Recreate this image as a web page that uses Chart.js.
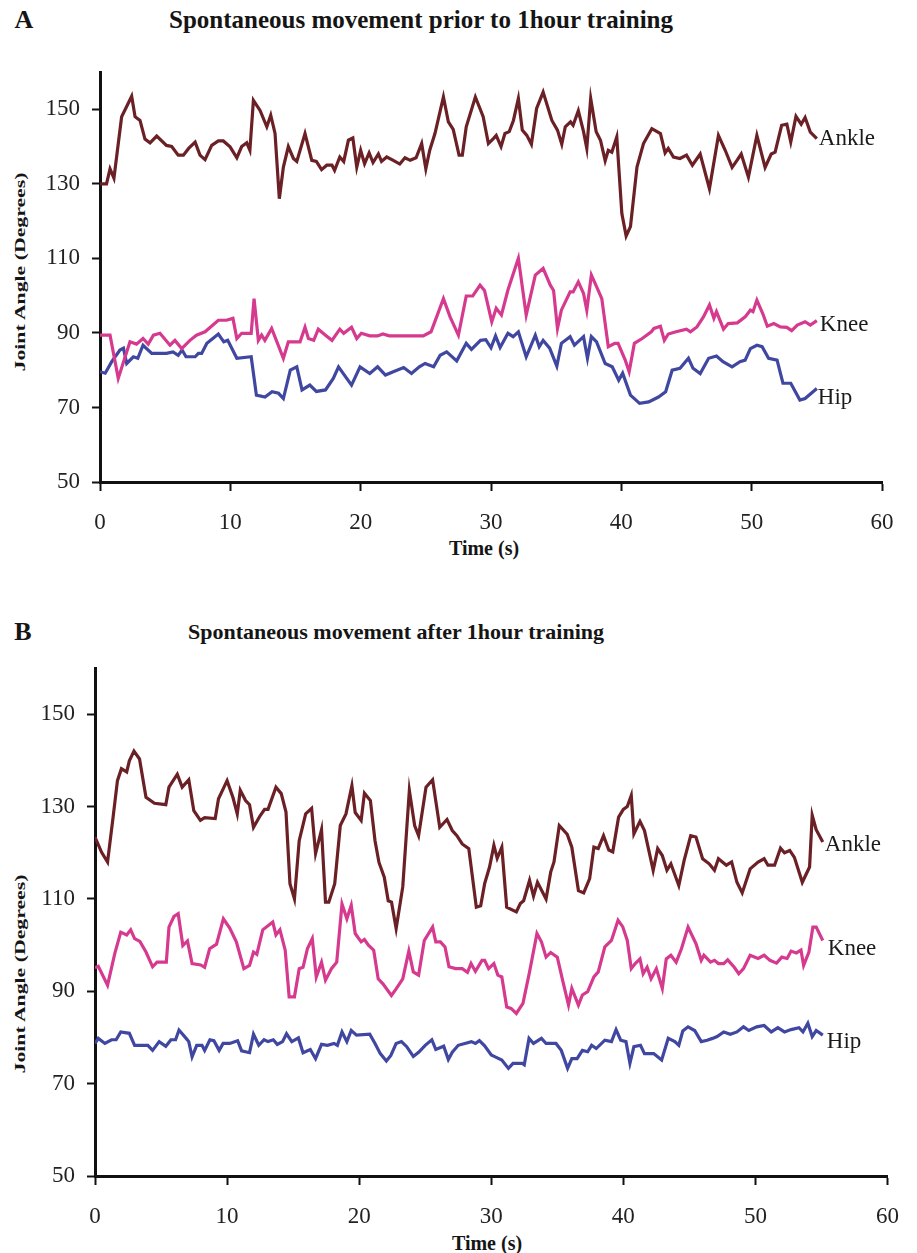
<!DOCTYPE html>
<html>
<head>
<meta charset="utf-8">
<script src="https://cdn.jsdelivr.net/npm/chart.js@4"></script>
<style>
  body { margin: 0; background: #fff; width: 917px; height: 1253px; position: relative; overflow: hidden; }
  .panel { position: absolute; left: 0; }
  .txt { position: absolute; transform: translate(-50%, -50%); font-family: 'Liberation Serif', 'Times New Roman', serif; font-weight: bold; color: #151515; white-space: nowrap; }
  .letter { font-size: 26px; }
  .ttl { font-size: 25px; }
  .ytl { font-size: 15px; transform: translate(-50%, -50%) rotate(-90deg) scaleX(1.45); }
  .xtl { font-size: 20px; }
</style>
</head>
<body>

<div class="txt letter" style="left:24px; top:20px;">A</div>
<div class="txt ttl" style="left:421px; top:20px;">Spontaneous movement prior to 1hour training</div>
<div class="txt ytl" style="left:20px; top:272px;">Joint Angle (Degrees)</div>
<div class="txt xtl" style="left:484px; top:548px;">Time (s)</div>

<div class="txt letter" style="left:23px; top:632px;">B</div>
<div class="txt ttl" style="left:396px; top:632px; font-size:22px;">Spontaneous movement after 1hour training</div>
<div class="txt ytl" style="left:20px; top:974px;">Joint Angle (Degrees)</div>
<div class="txt xtl" style="left:487px; top:1243px;">Time (s)</div>

<div class="panel" style="top:0px;"><canvas id="chartA" width="917" height="600"></canvas></div>
<div class="panel" style="top:600px;"><canvas id="chartB" width="917" height="653"></canvas></div>

<script>
// --- axis ticks ---
const timeTicks = [0, 10, 20, 30, 40, 50, 60];
const angleTicks = [50, 70, 90, 110, 130, 150];

// --- A: prior to training ---
const ankleA_t = [0,0.5,0.77,1.07,1.66,2.43,2.69,3.07,3.45,3.84,4.35,5.1,5.5,6.0,6.4,6.8,7.3,7.67,8.06,8.57,9.08,9.46,9.98,10.5,10.87,11.26,11.5,11.77,12.28,12.8,13.1,13.43,13.76,14.07,14.45,14.84,15.1,15.73,16.25,16.6,17.0,17.4,17.8,18.0,18.4,18.7,19.06,19.4,19.7,20.0,20.3,20.65,20.95,21.36,21.6,22.0,22.5,23.0,23.4,23.8,24.25,24.68,25.0,25.3,25.7,26.35,26.73,27.1,27.55,27.8,28.1,28.8,29.4,29.8,30.2,30.4,30.77,31.07,31.4,31.72,32.1,32.4,32.75,33.1,33.5,34.0,34.67,35.1,35.43,35.7,36.1,36.3,36.7,37.1,37.35,37.65,38.07,38.4,38.76,39.0,39.27,39.65,40.04,40.37,40.7,41.2,41.7,42.34,43.0,43.36,43.6,44.0,44.5,45.0,45.45,46.05,46.76,47.45,47.97,48.5,48.9,49.2,49.75,50.4,51.03,51.5,51.8,52.3,52.7,53.0,53.4,53.8,54.1,54.5,55.0];
const ankleA_deg = [130,130,134,131.5,148,153.5,148,147,142,141,142.8,140.3,140,137.7,137.7,139.5,141.2,137.7,136.5,140.3,141.5,141.5,139.9,137,140,141,139,152.4,149.7,145.3,148.4,143.5,126,134.5,140,136.8,136,143.5,136.3,136,133.8,135,135,133.6,137.2,136,141.7,142.3,134.5,139,135.4,138.3,135.7,138,136,137.2,136.3,135.3,137,136.3,137,140.8,134,139,143.5,153.3,146.6,144.6,137.7,137.7,145.3,153.3,148,140.8,142.2,143,140,143.5,144,147,152.9,144.4,143,140.6,150.2,154.6,147,144.4,140.6,145.3,146.6,145.7,149.6,144,139.5,152.9,144,141.7,136.2,139,138.5,142.6,122,116,118.5,134.5,140.8,144.8,143.5,138.3,139.5,137.2,136.8,137.7,135,138,128.7,143,139,134.4,136.4,138,131.8,143,134.4,138,138.5,145.7,146,141.2,148.1,146,147.8,143.9,142.1];

const kneeA_t = [0,0.77,1.4,2.3,2.8,3.3,3.7,4.1,4.6,5.37,5.75,6.27,6.9,7.4,8.06,9.08,9.7,10.2,10.5,10.87,11.6,11.82,12.15,12.4,12.65,13.17,14.07,14.45,15.35,15.73,15.99,16.4,16.75,17.3,17.8,18.4,18.7,19.3,19.7,20.05,20.7,21.3,21.7,22.2,24.8,25.4,26.35,26.86,27.5,28.1,28.6,29.16,29.5,30.06,30.4,30.8,31.3,32.1,32.7,33.4,34.0,34.55,34.8,35.1,35.4,36.07,36.3,36.7,37.1,37.35,37.7,38.1,38.5,39.0,39.5,39.75,40.3,40.6,41.0,41.6,42.3,42.5,43.0,43.3,43.6,44.2,45.0,45.3,45.8,46.3,46.76,47.1,47.3,47.84,48.2,48.9,49.5,49.9,50.1,50.4,50.85,51.2,51.7,52.2,52.7,53.07,53.5,54.1,54.5,55.0];
const kneeA_deg = [89.4,89.4,77.8,87.6,87,88.5,87,89.4,89.9,86.7,88,85.8,88,89.4,90.3,93.4,93.4,93.9,88.5,89.9,89.9,99.2,88,89.4,88,91.2,83.2,87.6,87.6,91.5,88.5,88,91,89.4,88,91,89.9,91.5,88.5,89.9,89.2,89.2,89.7,89.2,89.2,90.3,99.2,94.3,89.4,99.9,99.9,102.8,101.4,93,96.6,94.8,101.5,110,94.8,105.5,107.3,102.8,101.4,91.2,96.1,101,101,103.7,100.6,96.1,105.5,102.4,99.2,86.3,87.2,87.2,82.7,79.6,87.2,88.5,90.3,91.2,91.8,88,89.7,90.3,91,90.3,91.6,94.3,97.5,93.9,95.7,91,92.5,92.7,94.3,96.1,95.7,98.8,95.2,91.8,92.5,91.6,91.5,90.6,92.1,93,92.1,93.3];

const hipA_t = [0,0.4,0.9,1.53,1.8,2.05,2.56,2.9,3.3,3.97,5.1,5.6,6.0,6.3,6.6,7.3,7.55,7.8,8.2,9.08,9.5,9.8,10.5,11.6,12.0,12.66,13.2,13.7,14.07,14.6,15.1,15.5,16.1,16.6,17.3,17.9,18.3,19.3,19.95,20.7,21.3,21.9,22.5,23.3,23.9,24.5,24.94,25.6,26.1,26.6,27.37,28.1,28.5,29.2,29.6,30.0,30.35,30.7,31.3,31.7,32.1,32.7,33.4,33.7,34.0,34.5,35.05,35.4,36.07,36.4,37.1,37.4,37.7,38.1,38.76,39.3,39.8,40.1,40.7,41.4,42.1,42.85,43.4,43.9,44.5,45.15,45.5,46.05,46.7,47.3,47.8,48.5,49.1,49.5,49.9,50.4,50.8,51.3,51.95,52.4,53.0,53.7,54.1,55.0];
const hipA_deg = [79.6,79.2,82.3,85.4,85.9,81.8,83.6,83.2,86.7,84.5,84.5,84.9,84,85.4,83.6,83.6,84.5,84.5,87.2,89.7,87.6,88,83.2,83.6,73.3,72.8,74.2,73.8,72.4,80,80.9,74.7,76,74.3,74.7,77.8,80.9,76,80.9,79.1,80.9,78.7,79.6,80.7,79.1,80.9,81.8,80.9,84,84.9,82.5,87.2,85.6,88,88.2,86,89.2,86.1,89.9,89,90.3,83.6,89.4,86.3,88,85.9,81.1,87.2,89,86.7,89,83.2,89,87.6,81.8,80.9,77.3,79.2,73.3,71.1,71.5,72.8,74.2,80,80.5,83.2,80.5,79.1,83.2,83.8,82.3,80.9,82.3,82.7,85.8,86.7,86.3,83.2,82.7,76.5,76.5,72,72.4,75.1];

// --- B: after training ---
const ankleB_t = [0,0.5,0.95,1.37,1.7,2.0,2.4,2.6,2.95,3.37,3.86,4.5,5.36,5.6,6.23,6.6,7.1,7.48,7.98,8.3,9.1,9.35,10.0,10.45,10.77,11.0,11.4,11.7,12.0,12.5,12.84,13.1,13.7,14.1,14.46,14.76,15.1,15.46,15.95,16.4,16.7,17.15,17.45,17.7,18.15,18.57,19.0,19.45,19.7,20.15,20.4,20.85,21.2,21.5,21.9,22.2,22.45,22.8,23.3,23.8,24.2,24.5,25.06,25.56,26.1,26.65,27.05,27.4,27.8,28.3,28.87,29.2,29.5,29.87,30.2,30.45,30.8,31.17,31.9,32.2,32.45,32.9,33.2,33.5,34.15,34.5,34.75,35.15,35.75,36.1,36.6,37.0,37.45,37.77,38.1,38.5,38.9,39.2,39.64,40.0,40.3,40.6,40.8,41.26,41.6,42.26,42.6,42.95,43.3,43.6,44.2,44.6,45.1,45.5,46.0,46.5,46.9,47.2,47.8,48.2,48.6,49.0,49.6,50.2,50.66,50.95,51.45,51.9,52.2,52.6,52.95,53.55,54.1,54.3,54.6,55.1];
const ankleB_deg = [123.4,120.1,118,127.7,135.6,138.2,137.5,139.9,142,140.3,132,130.7,130.4,134.2,137,134.2,135.8,129.1,127,127.6,127.4,131.7,135.6,131.9,128.4,133.5,131.3,130.4,125.5,128,129.4,129.4,134.2,132.8,128.8,113.3,110,122.6,128.4,129.6,119.8,125,109.3,109.3,113.3,125.9,128.4,134.5,128.7,127,132.9,131.3,122.6,117.9,114.7,109.6,109.3,103.6,112.6,133.5,125.9,123.7,134.2,135.8,125.5,127.2,124.8,123.7,121.9,120.9,108.2,108.5,113.3,116.9,121.6,118.8,121.2,108.2,107.2,109,109.6,114,110.6,113.6,110,115.8,118,125.9,124,121.2,111.8,111.3,114.4,121.2,120.9,123.7,120.6,120.2,127.7,129.4,130,132.4,124.1,126.8,124.8,116.2,120.9,119.4,116.2,117.6,112.9,118.3,123.7,123.4,118.7,117.6,116.2,118.7,117.3,118,113.6,111.3,116.5,118,118.7,117.3,117.3,121,120,120.5,119,113.6,116.9,128.1,125,122.3];

const kneeB_t = [0,0.25,0.95,1.5,1.95,2.4,2.7,3.0,3.4,3.86,4.36,4.7,5.4,5.6,5.98,6.3,6.65,7.0,7.35,8.0,8.3,8.68,9.2,9.72,10.2,10.7,11.27,11.7,12.0,12.25,12.7,13.46,13.7,14.0,14.4,14.7,15.1,15.46,15.75,16.08,16.45,16.75,17.15,17.45,17.9,18.3,18.7,19.07,19.4,19.7,20.15,20.4,20.7,21.1,21.44,21.8,22.44,22.8,23.3,23.76,24.1,24.5,24.93,25.56,25.8,26.15,26.5,26.8,27.3,27.8,28.2,28.47,28.8,29.3,29.5,29.8,30.2,30.5,30.8,31.17,31.5,31.9,32.4,32.9,33.46,33.8,34.15,34.5,35.0,35.4,35.85,36.1,36.6,36.9,37.3,37.77,38.1,38.6,39.1,39.6,39.95,40.3,40.6,40.9,41.26,41.5,41.8,42.1,42.5,42.95,43.25,43.6,44.0,44.4,44.9,45.5,45.9,46.1,46.6,46.9,47.2,47.6,47.9,48.4,48.74,49.1,49.6,50.2,50.66,51.1,51.6,52.0,52.4,52.7,53.1,53.45,53.65,54.05,54.35,54.6,55.1];
const kneeB_deg = [95.1,95.4,91.3,98.2,102.8,102.2,103.3,101.4,100.8,98.5,95.3,96.3,96.3,103.9,106.2,106.8,99.9,100.9,96,95.7,95.2,99.2,100.2,105.7,103.7,100.7,94.9,95.6,98.5,98,103.3,105,102.2,103.3,98.9,88.8,88.8,94.9,95.2,99.2,101.4,93.1,96.3,92.4,94.9,96.3,108.9,105.7,108.6,102.5,100.7,101.2,100,98.9,92.7,91.6,89.1,90.5,92.7,98.7,94.2,93.5,101,103.9,100.7,100.7,99.6,95.3,94.9,94.9,94.1,96,94.3,96.7,96.7,94.9,96,93.5,93.1,86.6,86.3,85.2,87.4,94.2,102.5,100.7,97.4,98.4,97.4,92.4,87,90.6,87,89.2,89.9,93.1,94.2,99.6,101,105.4,104,101,94.9,96,97,93.8,95.2,92.7,94.9,90.6,97,97.8,96.3,99.2,103.9,100.3,96.7,97.8,96.3,96.7,96,96,96.8,95.2,93.8,94.9,97.8,97.1,97.8,96.7,96.1,97.4,97.1,98.7,98.3,98.9,95.6,98.5,103.9,103.9,101];

const hipB_t = [0,0.25,0.75,1.25,1.6,1.95,2.6,3.0,4.0,4.36,4.86,5.36,5.75,6.1,6.36,6.9,7.1,7.35,7.7,8.1,8.3,8.7,9.0,9.4,9.7,10.2,10.8,11.1,11.7,12.0,12.4,12.8,13.1,13.5,13.8,14.2,14.5,14.9,15.4,15.75,16.3,16.7,17.15,17.6,18.1,18.35,18.7,19.07,19.4,19.8,20.8,21.2,21.6,22.06,22.4,22.8,23.2,23.6,24.1,24.5,25.0,25.5,25.8,26.4,26.75,27.05,27.5,28.0,28.5,28.8,29.1,29.5,30.0,30.3,30.8,31.3,31.65,32.35,32.5,32.86,33.2,33.8,34.15,34.9,35.3,35.78,36.1,36.5,36.9,37.3,37.6,37.95,38.6,39.1,39.45,39.8,40.2,40.5,40.8,41.3,41.6,42.3,42.9,43.4,43.9,44.2,44.5,44.9,45.4,45.9,46.35,46.75,47.1,47.6,48.1,48.6,49.1,49.5,50.1,50.66,51.2,51.7,52.2,52.7,53.3,53.6,53.97,54.3,54.6,55.1];
const hipB_deg = [78.7,79.8,78.7,79.5,79.5,81.2,80.9,78.3,78.3,77.2,79.1,78.1,79.5,79.5,81.6,79.8,79.1,75.8,78.3,78.3,77.2,79.5,79.3,77.2,78.7,78.7,79.3,77.1,76.7,80.7,78.3,79.5,79.1,79.5,78.5,79.1,80.8,79.1,79.9,76.7,77.4,75.4,78.5,78.3,78.7,78.3,81.2,79.1,81.5,80.5,80.7,78.7,76.5,74.9,76.1,78.7,79.1,78,75.9,76.8,78.3,79.5,77.4,78.1,75.2,76.8,78.3,78.7,79.1,78.7,79.3,78.2,76.2,75.8,75.1,73.3,74.4,74.4,74.1,79.8,78.7,79.8,78.7,78.7,77.2,73.3,75.4,75.4,77.2,76.9,78.3,77.6,79.4,79.1,81.7,79.4,79.1,74.4,78,78.3,76.5,76.5,75.1,79.8,79.1,78.3,81.4,82.3,81.5,79.1,79.4,79.8,80.2,81.2,80.7,81.2,82.3,81.5,82.3,82.6,81.2,82.1,81.2,81.7,82.1,81.2,83.1,80.2,81.5,80.5];

const seriesNames = ['Ankle', 'Knee', 'Hip'];
const seriesColors = ['#6b2025', '#d53a8f', '#3f47a1'];
const serif = "'Liberation Serif', 'Times New Roman', serif";

function toPoints(t, v) {
    return t.map((x, i) => ({ x: x, y: v[i] }));
}

// draws "Ankle", "Knee", "Hip" next to the last point of each line
const endLabels = {
    id: 'endLabels',
    afterDatasetsDraw(chart, args, opts) {
        const ctx = chart.ctx;
        ctx.save();
        ctx.font = '23px ' + serif;
        ctx.fillStyle = '#1b1b1b';
        ctx.textBaseline = 'middle';
        ctx.textAlign = 'left';
        chart.data.datasets.forEach((ds, i) => {
            const pts = chart.getDatasetMeta(i).data;
            const last = pts[pts.length - 1];
            const off = opts.offsets[i];
            ctx.fillText(ds.label, last.x + off[0], last.y + off[1]);
        });
        ctx.restore();
    }
};

function makePanel(canvasId, series, geom) {
    const datasets = series.map((s, i) => ({
        label: seriesNames[i],
        data: toPoints(s[0], s[1]),
        borderColor: seriesColors[i],
        borderWidth: 3.2,
        pointRadius: 0,
        tension: 0,
        fill: false
    }));

    return new Chart(document.getElementById(canvasId), {
        type: 'line',
        data: { datasets: datasets },
        plugins: [endLabels],
        options: {
            responsive: false,
            animation: false,
            layout: { padding: { left: 0, top: geom.top, right: geom.right, bottom: 0 } },
            plugins: {
                legend: { display: false },
                tooltip: { enabled: false },
                endLabels: { offsets: geom.labelOffsets }
            },
            scales: {
                x: {
                    type: 'linear',
                    min: 0,
                    max: 60,
                    afterBuildTicks: s => { s.ticks = timeTicks.map(v => ({ value: v })); },
                    afterFit: s => { s.height = geom.xAxisHeight; },
                    border: { display: true, color: '#111', width: 3 },
                    grid: { drawOnChartArea: false, drawTicks: true, tickLength: 9, tickWidth: 2, tickColor: '#111' },
                    ticks: { color: '#222', font: { family: serif, size: 23 }, padding: 18, maxRotation: 0 }
                },
                y: {
                    type: 'linear',
                    min: 50,
                    max: 160,
                    afterBuildTicks: s => { s.ticks = angleTicks.map(v => ({ value: v })); },
                    afterFit: s => { s.width = geom.yAxisWidth; },
                    border: { display: true, color: '#111', width: 3 },
                    grid: { drawOnChartArea: false, drawTicks: true, tickLength: 8, tickWidth: 2, tickColor: '#111' },
                    ticks: { color: '#222', font: { family: serif, size: 23 }, padding: 12 }
                }
            }
        }
    });
}

makePanel('chartA',
    [[ankleA_t, ankleA_deg], [kneeA_t, kneeA_deg], [hipA_t, hipA_deg]],
    { top: 72, right: 35, yAxisWidth: 100, xAxisHeight: 118, labelOffsets: [[2, 0], [3, 4], [1, 10]] });

makePanel('chartB',
    [[ankleB_t, ankleB_deg], [kneeB_t, kneeB_deg], [hipB_t, hipB_deg]],
    { top: 68, right: 20, yAxisWidth: 95, xAxisHeight: 77, labelOffsets: [[2, 3], [5, 8], [4, 7]] });
</script>
</body>
</html>
